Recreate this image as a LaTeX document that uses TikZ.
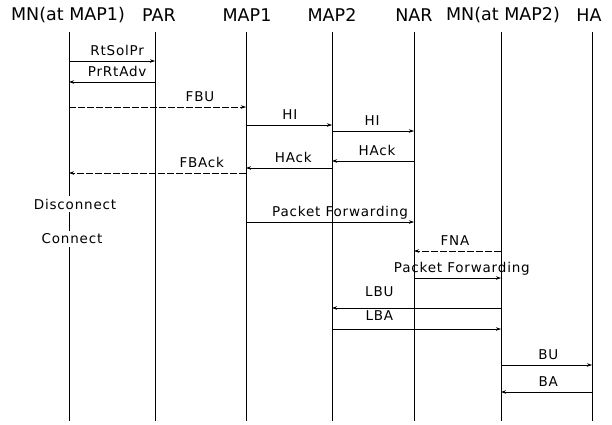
\documentclass[tikz,border=0pt]{standalone}
\usepackage{fontspec}
\setmainfont{DejaVu Sans}
\newfontfamily\msgfont[LetterSpace=6]{DejaVu Sans}
\usepackage{tikz}
\usetikzlibrary{positioning, arrows.meta}

\tikzset{
    lifeline/.style={line width=0.6pt},
    msg/.style={-{Stealth[length=5pt,width=3.5pt]}, line width=0.7pt},
    dmsg/.style={msg, dash pattern=on 7pt off 2pt},
    lbl/.style={font=\msgfont\fontsize{13.5}{15}\selectfont, inner sep=1pt,
        text height=9.5pt, text depth=2.5pt, above=1.5pt},
    head/.style={font=\fontsize{17.5}{20}\selectfont, inner sep=0pt},
    state/.style={font=\msgfont\fontsize{13.5}{15}\selectfont, fill=white,
        inner xsep=1pt, inner ysep=3pt},
}

\begin{document}
\begin{tikzpicture}[x=1pt, y=-1pt]

\useasboundingbox (0,0) rectangle (612,424);

% place entity labels
\node[head] (hMNa) at (68,15) {MN(at MAP1)};
\node[head] (hPAR) at (159,15) {PAR};
\node[head] (hMAPa) at (247,15) {MAP1};
\node[head] (hMAPb) at (332,15) {MAP2};
\node[head] (hNAR) at (414,15) {NAR};
\node[head] (hMNb) at (503,15) {MN(at MAP2)};
\node[head] (hHA) at (589,15) {HA};

% draw lifelines
\foreach \n/\x in {mna/69, par/155, mapa/246, mapb/332, nar/414, mnb/501, ha/592}{
    \coordinate (\n) at (\x,32);
    \draw[lifeline] (\n) -- (\x,421);
}

% fast handover
\draw[msg] (mna |- 0,61) -- (par |- 0,61) node[lbl, pos=.56] {RtSolPr};
\draw[msg] (par |- 0,82) -- (mna |- 0,82) node[lbl, pos=.44] {PrRtAdv};
\draw[dmsg] (mna |- 0,107) -- (mapa |- 0,107) node[lbl, pos=.74] {FBU};
\draw[msg] (mapa |- 0,125) -- (mapb |- 0,125) node[lbl, pos=.51] {HI};
\draw[msg] (mapb |- 0,131) -- (nar |- 0,131) node[lbl, pos=.49] {HI};
\draw[msg] (nar |- 0,161) -- (mapb |- 0,161) node[lbl, pos=.45] {HAck};
\draw[msg] (mapb |- 0,168) -- (mapa |- 0,168) node[lbl, pos=.45] {HAck};
\draw[dmsg] (mapa |- 0,173) -- (mna |- 0,173) node[lbl, pos=.25] {FBAck};

% link switch
\node[state] (disc) at (75,204) {Disconnect};
\node[state] (conn) at (72,239) {Connect};

\draw[msg] (mapa |- 0,222) -- (nar |- 0,222) node[lbl, pos=.56] {Packet Forwarding};
\draw[dmsg] (mnb |- 0,251) -- (nar |- 0,251) node[lbl, pos=.53] {FNA};
\draw[msg] (nar |- 0,278) -- (mnb |- 0,278) node[lbl, pos=.55] {Packet Forwarding};

% local and home binding
\draw[msg] (mnb |- 0,308) -- (mapb |- 0,308) node[lbl, pos=.72, above=8pt] {LBU};
\draw[msg] (mapb |- 0,329) -- (mnb |- 0,329) node[lbl, pos=.28, above=5pt] {LBA};
\draw[msg] (mnb |- 0,365) -- (ha |- 0,365) node[lbl, pos=.52] {BU};
\draw[msg] (ha |- 0,392) -- (mnb |- 0,392) node[lbl, pos=.48] {BA};

\end{tikzpicture}
\end{document}
